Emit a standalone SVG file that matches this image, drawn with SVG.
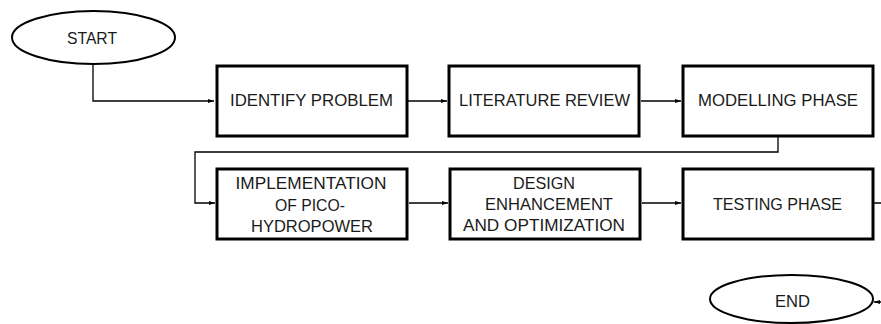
<svg xmlns="http://www.w3.org/2000/svg" width="881" height="324" viewBox="0 0 881 324">
  <style>
    .box { fill: #ffffff; stroke: #000000; stroke-width: 3; }
    .term { fill: #ffffff; stroke: #000000; stroke-width: 2; }
    .lbl { font-family: "Liberation Sans", Arial, sans-serif; font-size: 17px; fill: #1a1a1a; text-anchor: middle; }
    .wire { fill: none; stroke: #000000; stroke-width: 1.3; }
  </style>
  <defs>
    <marker id="arrow" viewBox="0 0 6 4" refX="6" refY="2" markerWidth="6" markerHeight="4" markerUnits="userSpaceOnUse" orient="auto">
      <path d="M0,0 L6,2 L0,4 Z" fill="#000000"/>
    </marker>
  </defs>
  <rect width="881" height="324" fill="#ffffff"/>

  <g id="connectors">
    <path class="wire" d="M93,64 V101 H214" marker-end="url(#arrow)"/>
    <path class="wire" d="M408,101 H447" marker-end="url(#arrow)"/>
    <path class="wire" d="M641,101 H681" marker-end="url(#arrow)"/>
    <path class="wire" d="M778,137 V152 H195 V203 H215" marker-end="url(#arrow)"/>
    <path class="wire" d="M409,203 H448" marker-end="url(#arrow)"/>
    <path class="wire" d="M642,203 H681" marker-end="url(#arrow)"/>
    <path class="wire" d="M874,203 H892 V302 H874" marker-end="url(#arrow)"/>
  </g>

  <g id="start">
    <ellipse class="term" cx="93.5" cy="37.5" rx="81.5" ry="26.5"/>
    <text class="lbl" x="92" y="44" textLength="50" lengthAdjust="spacingAndGlyphs">START</text>
  </g>

  <g id="identify-problem">
    <rect class="box" x="217" y="66" width="190" height="70"/>
    <text class="lbl" x="311.5" y="106" textLength="163" lengthAdjust="spacingAndGlyphs">IDENTIFY PROBLEM</text>
  </g>

  <g id="literature-review">
    <rect class="box" x="449" y="66" width="190" height="70"/>
    <text class="lbl" x="544.5" y="106" textLength="171" lengthAdjust="spacingAndGlyphs">LITERATURE REVIEW</text>
  </g>

  <g id="modelling-phase">
    <rect class="box" x="683" y="66" width="190" height="70"/>
    <text class="lbl" x="778" y="106" textLength="160" lengthAdjust="spacingAndGlyphs">MODELLING PHASE</text>
  </g>

  <g id="implementation">
    <rect class="box" x="217" y="169" width="190" height="70"/>
    <text class="lbl" x="311" y="189" textLength="151" lengthAdjust="spacingAndGlyphs">IMPLEMENTATION</text>
    <text class="lbl" x="310" y="211" textLength="70" lengthAdjust="spacingAndGlyphs">OF PICO-</text>
    <text class="lbl" x="312" y="232" textLength="122" lengthAdjust="spacingAndGlyphs">HYDROPOWER</text>
  </g>

  <g id="design-enhancement">
    <rect class="box" x="450" y="169" width="190" height="70"/>
    <text class="lbl" x="544" y="189" textLength="62" lengthAdjust="spacingAndGlyphs">DESIGN</text>
    <text class="lbl" x="549" y="210" textLength="128" lengthAdjust="spacingAndGlyphs">ENHANCEMENT</text>
    <text class="lbl" x="544" y="231" textLength="162" lengthAdjust="spacingAndGlyphs">AND OPTIMIZATION</text>
  </g>

  <g id="testing-phase">
    <rect class="box" x="683" y="169" width="190" height="70"/>
    <text class="lbl" x="777.5" y="210" textLength="129" lengthAdjust="spacingAndGlyphs">TESTING PHASE</text>
  </g>

  <g id="end">
    <ellipse class="term" cx="791.5" cy="299" rx="81.5" ry="24"/>
    <text class="lbl" x="792.5" y="307" textLength="35" lengthAdjust="spacingAndGlyphs">END</text>
  </g>
</svg>
